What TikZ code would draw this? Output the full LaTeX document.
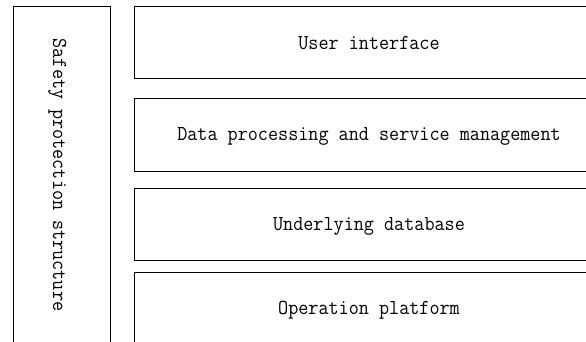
\documentclass[tikz,border=0pt]{standalone}
\usepackage{fontspec}
\setmainfont[FakeStretch=0.92]{Latin Modern Mono}
\begin{document}
\begin{tikzpicture}[x=1pt,y=-1pt,
  layer/.style={draw=black,line width=1pt},
  lbl/.style={font=\fontsize{21.3}{24}\selectfont,inner sep=0pt,anchor=base}]
\useasboundingbox (0,0) rectangle (586,342);
\clip (0,0) rectangle (586,342);
% left safety box (open at bottom, runs off the page)
\draw[layer] (13,360) -- (13,7) -- (110,7) -- (110,360);
\node[lbl,rotate=-90] (safety) at (53,175) {Safety protection structure};
% layers (right side runs off the page)
\draw[layer] (134,7) rectangle (610,79);
\node[lbl] (ui) at (369,49.5) {User interface};
\draw[layer] (134,99) rectangle (610,171);
\node[lbl] (dp) at (369,141) {Data processing and service management};
\draw[layer] (134,188) rectangle (610,260);
\node[lbl] (db) at (369,230.5) {Underlying database};
\draw[layer] (134,272) rectangle (610,344);
\node[lbl] (op) at (369,314.5) {Operation platform};
\end{tikzpicture}
\end{document}
